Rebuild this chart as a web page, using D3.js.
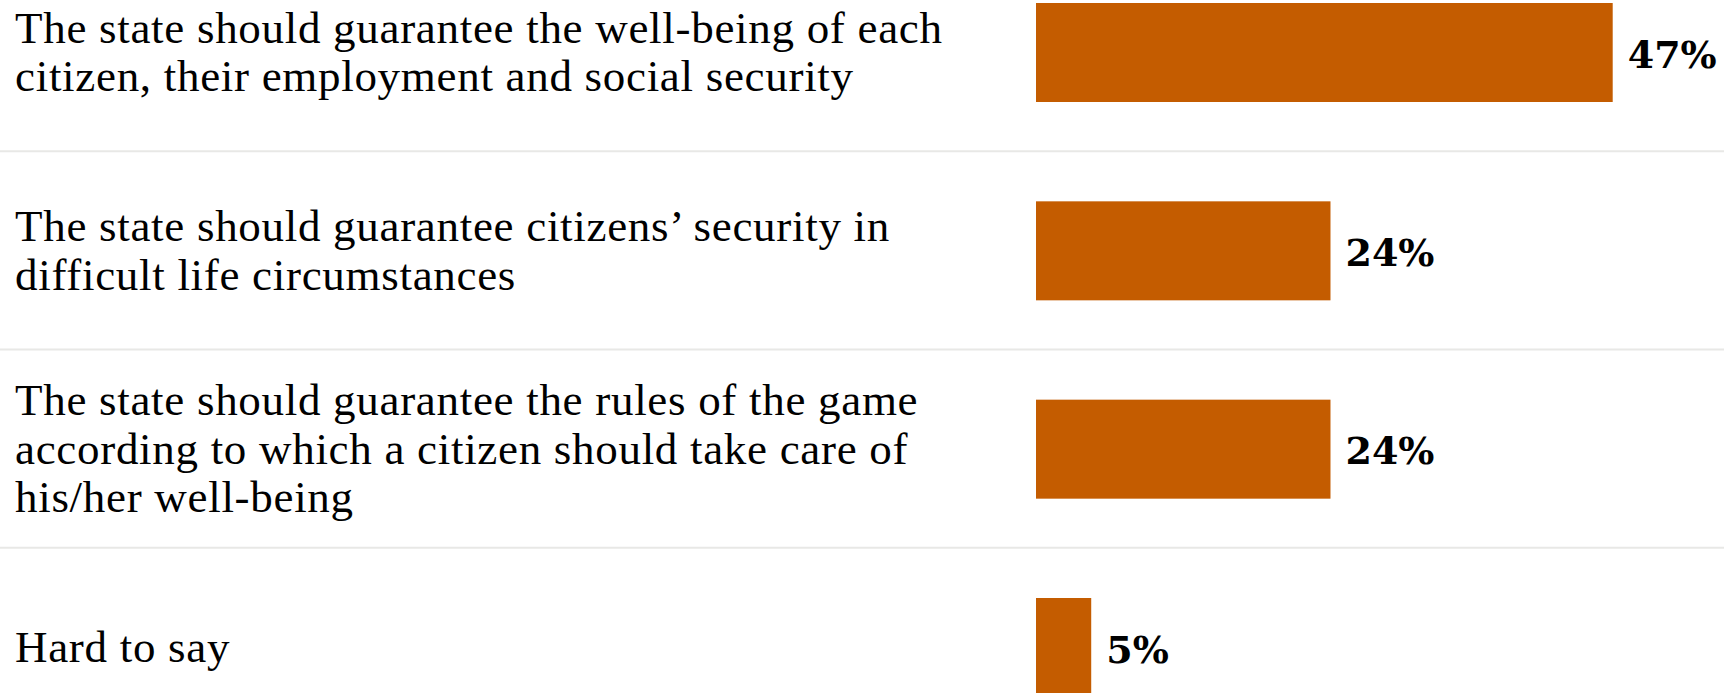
<!DOCTYPE html>
<html>
<head>
<meta charset="utf-8">
<script src="https://cdn.jsdelivr.net/npm/d3@7"></script>
<style>
  html, body { margin: 0; padding: 0; background: #fff; }
  svg { display: block; }
</style>
</head>
<body>
<svg id="chart" width="1724" height="693"></svg>
<script>
const categories = [
  "The state should guarantee the well-being of each\ncitizen, their employment and social security",
  "The state should guarantee citizens\u2019 security in\ndifficult life circumstances",
  "The state should guarantee the rules of the game\naccording to which a citizen should take care of\nhis/her well-being",
  "Hard to say"
];
const values = [47, 24, 24, 4.5];

const W = 1724, H = 693;
const svg = d3.select("#chart");

const y = d3.scalePoint().domain(categories).range([52.5, 647.5]);
const x = d3.scaleLinear().domain([0, 47]).range([1036, 1612.7]);
const barH = 99;
const lineH = 48.5;

// separators
const mids = categories.slice(1).map((c, i) => (y(categories[i]) + y(c)) / 2);
svg.selectAll("line.sep").data(mids).join("line")
  .attr("class", "sep")
  .attr("x1", 0).attr("x2", W)
  .attr("y1", d => d - 0.5).attr("y2", d => d - 0.5)
  .attr("stroke", "#e8e8e6").attr("stroke-width", 2);

// bars
svg.selectAll("rect.bar").data(categories).join("rect")
  .attr("class", "bar")
  .attr("x", x(0))
  .attr("y", d => y(d) - barH / 2)
  .attr("width", (d, i) => x(values[i]) - x(0))
  .attr("height", barH)
  .attr("fill", "#c45c00");

// category labels
const labels = svg.selectAll("text.cat").data(categories).join("text")
  .attr("class", "cat")
  .attr("font-family", "'Liberation Serif', serif")
  .attr("font-size", 45)
  .attr("letter-spacing", 0.7)
  .attr("fill", "#000");
labels.each(function(d) {
  const lines = d.split("\n");
  const n = lines.length;
  d3.select(this).selectAll("tspan").data(lines).join("tspan")
    .attr("x", 15)
    .attr("y", (l, i) => y(d) + 14.5 + (i - (n - 1) / 2) * lineH)
    .text(l => l);
});

// value labels
svg.selectAll("text.val").data(categories).join("text")
  .attr("class", "val")
  .attr("x", (d, i) => x(values[i]) + 15)
  .attr("y", d => y(d) + 15)
  .attr("font-family", "'DejaVu Serif', serif")
  .attr("font-weight", "bold")
  .attr("font-size", 38)
  .attr("fill", "#000")
  .text((d, i) => Math.round(values[i]) + "%");
</script>
</body>
</html>
